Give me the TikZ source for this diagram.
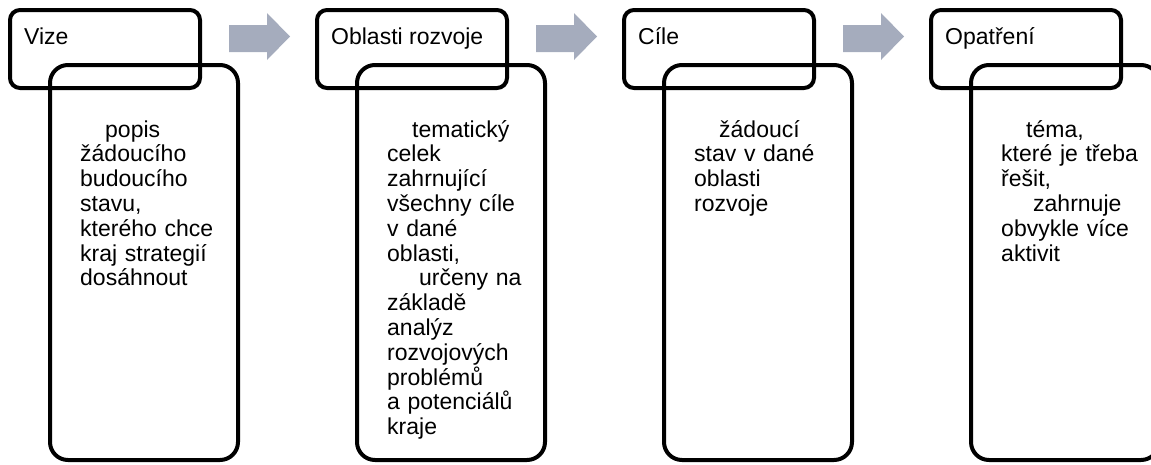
\documentclass[tikz,border=0pt]{standalone}
\usepackage{fontspec}
\setmainfont{Liberation Sans}
\definecolor{arrowgray}{RGB}{165,172,189}

\begin{document}
\begin{tikzpicture}[x=1pt,y=-1pt,
  titlebox/.style={draw=black,line width=4pt,rounded corners=10pt},
  bodybox/.style={draw=black,line width=4pt,rounded corners=18pt},
  titletext/.style={anchor=base west,inner sep=0pt,font=\fontsize{23}{24.8}\selectfont},
  bodytext/.style={anchor=base west,inner sep=0pt,text width=170pt,align=left,font=\fontsize{23}{24.8}\selectfont}]
\useasboundingbox (0,0) rectangle (1151,464);
\clip (0,0) rectangle (1151,464);

% arrows between the columns
\foreach \s in {0,307,614}
  \fill[arrowgray] (229+\s,25) -- (267+\s,25) -- (267+\s,13) -- (290+\s,36.5)
    -- (267+\s,60) -- (267+\s,52) -- (229+\s,52) -- cycle;

% Vize
\draw[titlebox] (10,10) rectangle (200,88);
\draw[bodybox] (50,65) rectangle (238,460);
\node[titletext] (vize) at (24,44) {Vize};
\node[bodytext] (vizetext) at (80,137) {\hspace*{25pt}popis\\ žádoucího\\ budoucího\\ stavu,\\ kterého chce\\ kraj strategií\\ dosáhnout};

% Oblasti rozvoje
\draw[titlebox] (317,10) rectangle (507,88);
\draw[bodybox] (357,65) rectangle (545,460);
\node[titletext] (oblasti) at (331,44) {Oblasti rozvoje};
\node[bodytext] (oblastitext) at (387,137) {\hspace*{25pt}tematický\\ celek\\ zahrnující\\ všechny cíle\\ v dané\\ oblasti,\\ \hspace*{32pt}určeny na\\ základě\\ analýz\\ rozvojových\\ problémů\\ a potenciálů\\ kraje};

% Cile
\draw[titlebox] (624,10) rectangle (814,88);
\draw[bodybox] (664,65) rectangle (852,460);
\node[titletext] (cile) at (638,44) {Cíle};
\node[bodytext] (ciletext) at (694,137) {\hspace*{25pt}žádoucí\\ stav v dané\\ oblasti\\ rozvoje};

% Opatreni
\draw[titlebox] (931,10) rectangle (1121,88);
\draw[bodybox] (971,65) rectangle (1159,460);
\node[titletext] (opatreni) at (945,44) {Opatření};
\node[bodytext] (opatrenitext) at (1001,137) {\hspace*{25pt}téma,\\ které je třeba\\ řešit,\\ \hspace*{32pt}zahrnuje\\ obvykle více\\ aktivit};

\end{tikzpicture}
\end{document}
